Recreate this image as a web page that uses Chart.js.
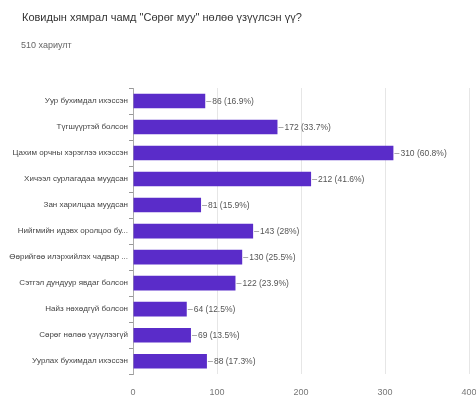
<!DOCTYPE html>
<html><head><meta charset="utf-8">
<script src="https://cdn.jsdelivr.net/npm/chart.js@4"></script>
<style>html,body{margin:0;padding:0;background:#fff}#wrap{width:476px;height:397px}</style>
</head><body><div id="wrap"><canvas id="c" width="476" height="397"></canvas></div>
<script>
const titleText = 'Ковидын хямрал чамд "Сөрөг муу" нөлөө үзүүлсэн үү?';
const subtitleText = '510 хариулт';
const categories = [
  'Уур бухимдал ихэссэн',
  'Түгшүүртэй болсон',
  'Цахим орчны хэрэглээ ихэссэн',
  'Хичээл сурлагадаа муудсан',
  'Зан харилцаа муудсан',
  'Нийгмийн идэвх оролцоо бу...',
  'Өөрийгөө илэрхийлэх чадвар ...',
  'Сэтгэл дундуур явдаг болсон',
  'Найз нөхөдгүй болсон',
  'Сөрөг нөлөө үзүүлээгүй',
  'Уурлах бухимдал ихэссэн'
];
const counts = [86, 172, 310, 212, 81, 143, 130, 122, 64, 69, 88];
const percents = ['16.9%', '33.7%', '60.8%', '41.6%', '15.9%', '28%', '25.5%', '23.9%', '12.5%', '13.5%', '17.3%'];
const xTicks = [0, 100, 200, 300, 400];

const FONT = '"Liberation Sans", Arial, sans-serif';

const headerText = {
  id: 'headerText',
  afterDraw(chart) {
    const ctx = chart.ctx;
    ctx.save();
    ctx.textBaseline = 'middle';
    ctx.textAlign = 'left';
    ctx.fillStyle = '#333';
    ctx.font = '11px ' + FONT;
    ctx.fillText(titleText, 22, 18);
    ctx.fillStyle = '#666';
    ctx.font = '9px ' + FONT;
    ctx.fillText(subtitleText, 21, 46);
    ctx.restore();
  }
};

const valueLabels = {
  id: 'valueLabels',
  afterDatasetsDraw(chart) {
    const ctx = chart.ctx;
    const meta = chart.getDatasetMeta(0);
    ctx.save();
    ctx.font = '8.5px ' + FONT;
    ctx.fillStyle = '#555';
    ctx.strokeStyle = '#aaa';
    ctx.lineWidth = 1;
    ctx.textBaseline = 'middle';
    meta.data.forEach((bar, i) => {
      const x = bar.x, y = Math.round(bar.y) + 0.5;
      ctx.beginPath();
      ctx.moveTo(x + 1, y);
      ctx.lineTo(x + 6, y);
      ctx.stroke();
      ctx.fillText(counts[i] + ' (' + percents[i] + ')', x + 7, y);
    });
    ctx.restore();
  }
};

new Chart(document.getElementById('c'), {
  type: 'bar',
  data: {
    labels: categories,
    datasets: [{
      data: counts,
      backgroundColor: '#5a2cc9',
      borderWidth: 0,
      barPercentage: 0.56,
      categoryPercentage: 1.0
    }]
  },
  options: {
    indexAxis: 'y',
    responsive: false,
    animation: false,
    events: [],
    layout: { padding: { left: 0, right: 7, top: 88, bottom: -14 } },
    plugins: {
      legend: { display: false },
      tooltip: { enabled: false },
      title: { display: false },
      subtitle: { display: false }
    },
    scales: {
      x: {
        min: 0, max: 400,
        afterBuildTicks(axis) { axis.ticks = xTicks.map(v => ({ value: v })); },
        afterFit(axis) { axis.paddingRight = 0; axis.paddingLeft = 0; },
        ticks: { color: '#777', font: { family: FONT, size: 9 }, padding: 13, maxRotation: 0 },
        grid: { color: '#e6e6e6', drawTicks: false },
        border: { display: false }
      },
      y: {
        afterFit(axis) { axis.width = 133; },
        ticks: { color: '#444', font: { family: FONT, size: 8 }, padding: 1, autoSkip: false },
        grid: { drawOnChartArea: false, drawTicks: true, tickLength: 4, color: '#999' },
        border: { display: true, color: '#aaa' }
      }
    }
  },
  plugins: [valueLabels, headerText]
});
</script>
</body></html>
